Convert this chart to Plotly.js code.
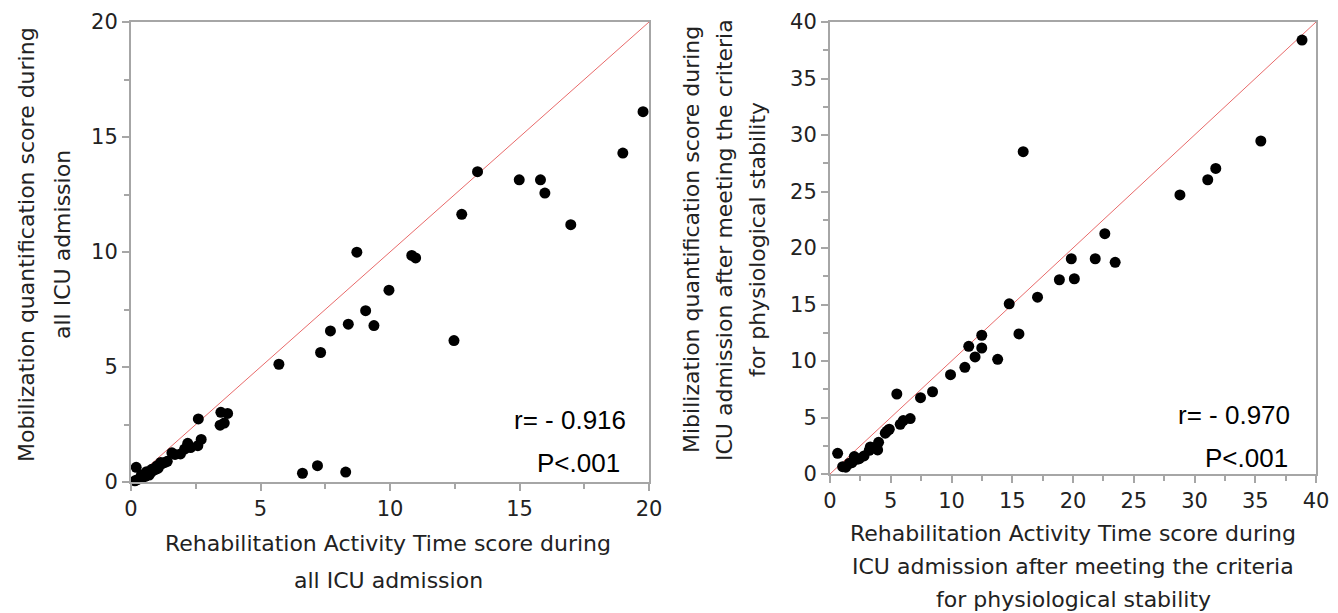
<!DOCTYPE html>
<html>
<head>
<meta charset="utf-8">
<script src="https://cdn.plot.ly/plotly-3.0.1.min.js"></script>
<style>html,body{margin:0;padding:0;background:#fff;}#chart{width:1338px;height:613px;}</style>
</head>
<body>
<div id="chart"></div>
<script>
// Left panel: all ICU admission
const leftX = [19.77,18.99,13.38,14.99,15.81,15.98,12.77,16.98,8.72,10.84,10.99,9.96,9.06,9.38,8.39,7.70,7.32,12.47,5.71,
  2.60,3.47,3.73,3.44,3.60,2.71,2.58,2.19,2.07,1.91,1.58,1.31,1.09,0.20,6.62,7.20,8.29,
  0.15,0.25,0.35,0.45,0.55,0.65,0.75,0.85,0.95,1.05,1.20,0.60,0.80,1.00,1.40,1.70,2.30,0.40,0.70,1.15];
const leftY = [16.1,14.3,13.49,13.14,13.14,12.56,11.64,11.19,9.99,9.85,9.74,8.34,7.45,6.80,6.86,6.57,5.63,6.15,5.12,
  2.74,3.03,2.98,2.47,2.56,1.85,1.58,1.68,1.43,1.22,1.27,0.85,0.74,0.64,0.38,0.71,0.43,
  0.05,0.10,0.15,0.20,0.25,0.35,0.40,0.50,0.55,0.60,0.80,0.45,0.55,0.70,0.90,1.20,1.50,0.30,0.30,0.85];
const leftDiag = [0, 20];

// Right panel: after meeting criteria for physiological stability
const rightX = [38.85,35.46,15.9,31.75,31.09,28.8,22.62,21.83,19.86,23.47,18.88,20.11,17.08,14.75,15.55,12.49,11.42,12.49,11.94,13.8,
  11.1,9.92,8.44,7.45,5.5,6.6,6.03,5.78,4.88,4.55,4.0,3.92,3.32,3.23,2.41,2.0,1.59,1.04,0.63,1.8,2.2,1.3,2.8,3.6,4.7];
const rightY = [38.4,29.47,28.52,27.04,26.04,24.7,21.27,19.05,19.05,18.73,17.19,17.28,15.65,15.06,12.4,12.28,11.3,11.15,10.36,10.15,
  9.44,8.79,7.28,6.75,7.08,4.91,4.73,4.4,3.96,3.61,2.8,2.13,2.4,2.1,1.36,1.54,0.95,0.65,1.83,1.0,1.3,0.6,1.6,2.3,3.8];
const rightDiag = [0, 40];

const leftXTitle = ["Rehabilitation Activity Time score during", "all ICU admission"];
const leftYTitle = ["Mobilization quantification score during", "all ICU admission"];
const rightXTitle = ["Rehabilitation Activity Time score during", "ICU admission after meeting the criteria", "for physiological stability"];
const rightYTitle = ["Mibilization quantification score during", "ICU admission after meeting the criteria", "for physiological stability"];
const leftStats = ["r= - 0.916", "P<.001"];
const rightStats = ["r= - 0.970", "P<.001"];

const W = 1338, H = 613;
const px = v => v / W, py = v => 1 - v / H;

const marker = {color: '#000', size: 11};
const traces = [
  {x: leftDiag, y: leftDiag, mode: 'lines', line: {color: '#e86a6a', width: 1}, xaxis: 'x', yaxis: 'y', hoverinfo: 'skip'},
  {x: leftX, y: leftY, mode: 'markers', marker: marker, xaxis: 'x', yaxis: 'y', cliponaxis: false},
  {x: rightDiag, y: rightDiag, mode: 'lines', line: {color: '#e86a6a', width: 1}, xaxis: 'x2', yaxis: 'y2', hoverinfo: 'skip'},
  {x: rightX, y: rightY, mode: 'markers', marker: marker, xaxis: 'x2', yaxis: 'y2', cliponaxis: false}
];

const axBase = {
  showgrid: false, zeroline: false, showline: true, linecolor: '#a6a6a6', linewidth: 2, mirror: true,
  ticks: 'outside', ticklen: 7, tickwidth: 2, tickcolor: '#a6a6a6', dtick: 5, tick0: 0,
  minor: {ticks: 'outside', ticklen: 5, tickwidth: 2, tickcolor: '#a6a6a6', dtick: 2.5},
  tickfont: {family: 'DejaVu Sans', size: 21, color: '#222'}, fixedrange: true
};

const annFont = {family: 'DejaVu Sans', size: 22, color: '#222'};
const statFont = {family: 'Liberation Sans, Arial', size: 26, color: '#000'};
const annotations = [];
// left x title
annotations.push({xref: 'paper', yref: 'paper', x: px(388), y: py(543), text: leftXTitle[0], showarrow: false, font: annFont, xanchor: 'center', yanchor: 'middle'});
annotations.push({xref: 'paper', yref: 'paper', x: px(388), y: py(580), text: leftXTitle[1], showarrow: false, font: annFont, xanchor: 'center', yanchor: 'middle'});
// left y title
annotations.push({xref: 'paper', yref: 'paper', x: px(26), y: py(245), text: leftYTitle[0], showarrow: false, font: annFont, textangle: -90, xanchor: 'center', yanchor: 'middle'});
annotations.push({xref: 'paper', yref: 'paper', x: px(62), y: py(245), text: leftYTitle[1], showarrow: false, font: annFont, textangle: -90, xanchor: 'center', yanchor: 'middle'});
// right x title
[533, 566, 599].forEach((yy, i) => annotations.push({xref: 'paper', yref: 'paper', x: px(1073), y: py(yy), text: rightXTitle[i], showarrow: false, font: annFont, xanchor: 'center', yanchor: 'middle'}));
// right y title
[691, 724, 757].forEach((xx, i) => annotations.push({xref: 'paper', yref: 'paper', x: px(xx), y: py(240), text: rightYTitle[i], showarrow: false, font: annFont, textangle: -90, xanchor: 'center', yanchor: 'middle'}));
// stats
annotations.push({xref: 'paper', yref: 'paper', x: px(628), y: py(420), text: leftStats[0], showarrow: false, font: statFont, xanchor: 'right', yanchor: 'middle'});
annotations.push({xref: 'paper', yref: 'paper', x: px(622), y: py(463), text: leftStats[1], showarrow: false, font: statFont, xanchor: 'right', yanchor: 'middle'});
annotations.push({xref: 'paper', yref: 'paper', x: px(1292), y: py(415), text: rightStats[0], showarrow: false, font: statFont, xanchor: 'right', yanchor: 'middle'});
annotations.push({xref: 'paper', yref: 'paper', x: px(1290), y: py(458), text: rightStats[1], showarrow: false, font: statFont, xanchor: 'right', yanchor: 'middle'});

const layout = {
  width: W, height: H, margin: {l: 0, r: 0, t: 0, b: 0},
  paper_bgcolor: '#fff', plot_bgcolor: '#fff', showlegend: false,
  xaxis: Object.assign({}, axBase, {domain: [px(131), px(649)], range: [0, 20], anchor: 'y'}),
  yaxis: Object.assign({}, axBase, {domain: [py(482), py(22)], range: [0, 20], anchor: 'x'}),
  xaxis2: Object.assign({}, axBase, {domain: [px(830), px(1316)], range: [0, 40], anchor: 'y2'}),
  yaxis2: Object.assign({}, axBase, {domain: [py(474), py(22)], range: [0, 40], anchor: 'x2'}),
  annotations: annotations
};

Plotly.newPlot('chart', traces, layout, {displayModeBar: false, staticPlot: true});
</script>
</body>
</html>
